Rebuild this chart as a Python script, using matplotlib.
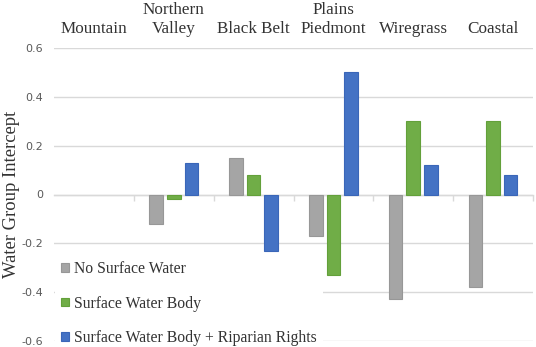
import matplotlib
matplotlib.use("Agg")
import matplotlib.pyplot as plt
import numpy as np

regions = ["Mountain", "Northern\nValley", "Black Belt", "Plains\nPiedmont", "Wiregrass", "Coastal"]
no_surface = [np.nan, -0.12, 0.15, -0.17, -0.43, -0.38]
water_body = [np.nan, -0.02, 0.08, -0.33, 0.30, 0.30]
riparian = [np.nan, 0.13, -0.23, 0.50, 0.12, 0.08]
series_names = ["No Surface Water", "Surface Water Body", "Surface Water Body + Riparian Rights"]
colors = ["#A5A5A5", "#70AD47", "#4472C4"]
edges = ["#979797", "#63A03A", "#3A66B8"]
y_ticks = [-0.6, -0.4, -0.2, 0, 0.2, 0.4, 0.6]
y_tick_labels = ["-0.6", "-0.4", "-0.2", "0", "0.2", "0.4", "0.6"]

plt.rcParams["font.family"] = ["Liberation Serif", "DejaVu Serif"]

fig = plt.figure(figsize=(5.36, 3.47), dpi=100)
ax = fig.add_axes([54 / 536, 6 / 347, 479 / 536, 293 / 347])

x = np.arange(len(regions))
width = 0.17
step = 0.22
for i, (vals, name) in enumerate(zip([no_surface, water_body, riparian], series_names)):
    ax.bar(x + (i - 1) * step, vals, width, color=colors[i], edgecolor=edges[i],
           linewidth=0.8, label=name, zorder=3)

ax.set_xlim(-0.5, len(regions) - 0.5)
ax.set_ylim(-0.6, 0.6)
ax.set_yticks(y_ticks)
ax.set_yticklabels(y_tick_labels, fontsize=8, color="#595959", family="DejaVu Sans")
ax.tick_params(axis="y", length=0, pad=8)
ax.grid(axis="y", color="#D9D9D9", linewidth=1, zorder=0)

ax.set_xticks(x)
ax.set_xticks(x + 0.5, minor=True)
ax.tick_params(axis="x", which="major", top=True, labeltop=True, bottom=False,
               labelbottom=False, length=0, pad=8, labelsize=12.3, labelcolor="#333333")
ax.tick_params(axis="x", which="minor", bottom=True, top=False, length=4,
               color="#D9D9D9", width=1)
ax.set_xticklabels(regions, linespacing=0.95)

for s in ["top", "left", "right"]:
    ax.spines[s].set_visible(False)
ax.spines["bottom"].set_position(("data", 0))
ax.spines["bottom"].set_color("#D9D9D9")
ax.spines["bottom"].set_linewidth(1)
ax.spines["bottom"].set_zorder(2)

ax.set_ylabel("Water Group Intercept", fontsize=13.4, color="#333333", labelpad=1)

leg = ax.legend(loc="lower left", bbox_to_anchor=(-0.008, -0.056), frameon=True, fancybox=False,
                edgecolor="none", facecolor="white", framealpha=1,
                prop={"size": 11.3}, handlelength=0.5, handleheight=0.5,
                handletextpad=0.3, labelspacing=1.2, borderpad=0.4, borderaxespad=0.3)
for t in leg.get_texts():
    t.set_color("#333333")
leg.set_zorder(5)

fig.savefig("out.png", dpi=100)
